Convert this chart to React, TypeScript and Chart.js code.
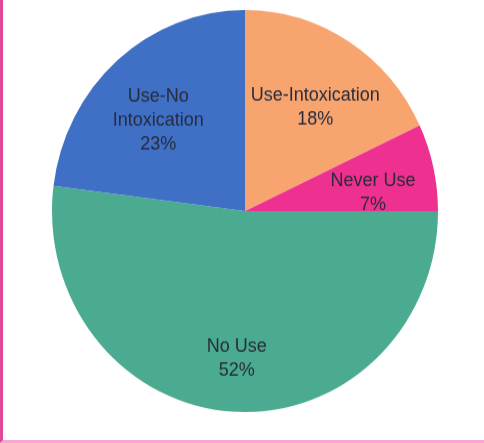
import React, { useEffect, useRef } from "react";
import { Chart, registerables } from "chart.js";

Chart.register(...registerables);

const categories: string[][] = [
  ["Use-Intoxication"],
  ["Never Use"],
  ["No Use"],
  ["Use-No", "Intoxication"],
];
const values: number[] = [18, 7, 52, 23];
const sliceColors: string[] = ["#f8a46f", "#ee3190", "#4bab90", "#3f70c6"];

const labelPlugin = {
  id: "sliceLabels",
  afterDatasetsDraw(chart: any) {
    const ctx = chart.ctx;
    const meta = chart.getDatasetMeta(0);
    const total = values.reduce((a, b) => a + b, 0);
    ctx.save();
    ctx.font = "18px 'Liberation Sans', Arial, sans-serif";
    ctx.fillStyle = "#272b3a";
    ctx.textAlign = "center";
    ctx.textBaseline = "middle";
    meta.data.forEach((arc: any, i: number) => {
      const p = arc.getProps(["x", "y", "startAngle", "endAngle", "outerRadius"], true);
      const mid = (p.startAngle + p.endAngle) / 2;
      const r = p.outerRadius * 0.68;
      const cx = p.x + Math.cos(mid) * r;
      const cy = p.y + Math.sin(mid) * r + 11;
      const lines = [...categories[i], Math.round((values[i] / total) * 100) + "%"];
      const lh = 23;
      const y0 = cy - ((lines.length - 1) * lh) / 2;
      lines.forEach((t, k) => ctx.fillText(t, cx, y0 + k * lh));
    });
    ctx.restore();
  },
};

export default function App() {
  const ref = useRef<HTMLCanvasElement>(null);
  useEffect(() => {
    if (!ref.current) return;
    const chart = new Chart(ref.current, {
      type: "pie",
      data: {
        labels: categories.map((c) => c.join(" ")),
        datasets: [
          {
            data: values,
            backgroundColor: sliceColors,
            borderWidth: 0,
          },
        ],
      },
      options: {
        animation: false,
        responsive: false,
        layout: { padding: 0 },
        plugins: {
          legend: { display: false },
          tooltip: { enabled: false },
        },
      },
      plugins: [labelPlugin],
    });
    return () => chart.destroy();
  }, []);

  return (
    <div
      style={{
        position: "fixed",
        left: 0,
        top: 0,
        width: 484,
        height: 443,
        background: "#ffffff",
        boxSizing: "border-box",
        borderLeft: "3px solid #e4469a",
        borderBottom: "3px solid #f7a6d6",
        overflow: "hidden",
      }}
    >
      <canvas
        ref={ref}
        width={386}
        height={386}
        style={{
          position: "absolute",
          left: 49,
          top: 10,
          width: 386,
          height: 386,
          transform: "scaleY(1.042)",
          transformOrigin: "top left",
        }}
      />
    </div>
  );
}
